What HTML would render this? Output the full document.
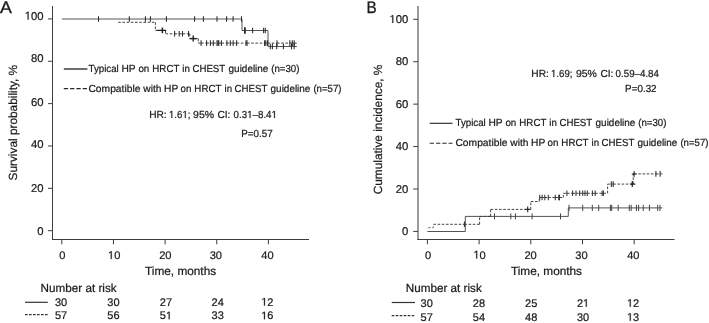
<!DOCTYPE html>
<html><head><meta charset="utf-8"><style>
html,body{margin:0;padding:0;background:#fff;}
svg{display:block;filter:grayscale(1);font-family:"Liberation Sans", sans-serif;fill:#1a1a1a;}
text{stroke:#1a1a1a;stroke-width:0.22px;text-rendering:geometricPrecision;}
</style></head><body>
<svg width="709" height="323" viewBox="0 0 709 323">
<rect width="709" height="323" fill="#fff"/>
<line x1="52.5" y1="6" x2="52.5" y2="240" stroke="#3c3c3c" stroke-width="1" />
<line x1="52" y1="239.5" x2="309" y2="239.5" stroke="#3c3c3c" stroke-width="1" />
<line x1="48" y1="230.7" x2="52.5" y2="230.7" stroke="#3c3c3c" stroke-width="1" />
<line x1="48" y1="188.34" x2="52.5" y2="188.34" stroke="#3c3c3c" stroke-width="1" />
<line x1="48" y1="145.98" x2="52.5" y2="145.98" stroke="#3c3c3c" stroke-width="1" />
<line x1="48" y1="103.62" x2="52.5" y2="103.62" stroke="#3c3c3c" stroke-width="1" />
<line x1="48" y1="61.26" x2="52.5" y2="61.26" stroke="#3c3c3c" stroke-width="1" />
<line x1="48" y1="18.9" x2="52.5" y2="18.9" stroke="#3c3c3c" stroke-width="1" />
<line x1="61.8" y1="239.5" x2="61.8" y2="244.3" stroke="#3c3c3c" stroke-width="1" />
<line x1="113.45" y1="239.5" x2="113.45" y2="244.3" stroke="#3c3c3c" stroke-width="1" />
<line x1="165.1" y1="239.5" x2="165.1" y2="244.3" stroke="#3c3c3c" stroke-width="1" />
<line x1="216.75" y1="239.5" x2="216.75" y2="244.3" stroke="#3c3c3c" stroke-width="1" />
<line x1="268.4" y1="239.5" x2="268.4" y2="244.3" stroke="#3c3c3c" stroke-width="1" />
<line x1="418" y1="6" x2="418" y2="240" stroke="#3a3a3a" stroke-width="1" />
<line x1="417.5" y1="239.5" x2="674.5" y2="239.5" stroke="#3c3c3c" stroke-width="1" />
<line x1="413.2" y1="231.4" x2="418" y2="231.4" stroke="#3c3c3c" stroke-width="1" />
<line x1="413.2" y1="188.98" x2="418" y2="188.98" stroke="#3c3c3c" stroke-width="1" />
<line x1="413.2" y1="146.56" x2="418" y2="146.56" stroke="#3c3c3c" stroke-width="1" />
<line x1="413.2" y1="104.14" x2="418" y2="104.14" stroke="#3c3c3c" stroke-width="1" />
<line x1="413.2" y1="61.72" x2="418" y2="61.72" stroke="#3c3c3c" stroke-width="1" />
<line x1="413.2" y1="19.3" x2="418" y2="19.3" stroke="#3c3c3c" stroke-width="1" />
<line x1="427.4" y1="239.5" x2="427.4" y2="244.3" stroke="#3c3c3c" stroke-width="1" />
<line x1="479.1" y1="239.5" x2="479.1" y2="244.3" stroke="#3c3c3c" stroke-width="1" />
<line x1="530.8" y1="239.5" x2="530.8" y2="244.3" stroke="#3c3c3c" stroke-width="1" />
<line x1="582.5" y1="239.5" x2="582.5" y2="244.3" stroke="#3c3c3c" stroke-width="1" />
<line x1="634.2" y1="239.5" x2="634.2" y2="244.3" stroke="#3c3c3c" stroke-width="1" />
<text x="37.32" y="234.85" font-size="11.3" xml:space="preserve">0</text>
<text x="31.03" y="191.8" font-size="11.3" xml:space="preserve">20</text>
<text x="31.03" y="148.25" font-size="11.3" xml:space="preserve">40</text>
<text x="31.03" y="105.85" font-size="11.3" xml:space="preserve">60</text>
<text x="31.03" y="62.45" font-size="11.3" xml:space="preserve">80</text>
<path d="M27.59,19.55L27.59,12.72L25.83,13.98L25.83,13.04L27.67,11.78L28.59,11.78L28.59,19.55Z" fill="#1a1a1a" stroke="#1a1a1a" stroke-width="0.22"/>
<text x="24.75" y="19.55" font-size="11.3" xml:space="preserve"> 00</text>
<text x="402.02" y="235" font-size="11.3" xml:space="preserve">0</text>
<text x="395.73" y="192.58" font-size="11.3" xml:space="preserve">20</text>
<text x="395.73" y="150.16" font-size="11.3" xml:space="preserve">40</text>
<text x="395.73" y="107.74" font-size="11.3" xml:space="preserve">60</text>
<text x="395.73" y="65.32" font-size="11.3" xml:space="preserve">80</text>
<path d="M392.29,22.9L392.29,16.07L390.53,17.33L390.53,16.39L392.37,15.13L393.29,15.13L393.29,22.9Z" fill="#1a1a1a" stroke="#1a1a1a" stroke-width="0.22"/>
<text x="389.45" y="22.9" font-size="11.3" xml:space="preserve"> 00</text>
<text x="59.36" y="259" font-size="11.1" xml:space="preserve">0</text>
<path d="M110.77,259L110.77,252.3L109.04,253.53L109.04,252.6L110.85,251.36L111.75,251.36L111.75,259Z" fill="#1a1a1a" stroke="#1a1a1a" stroke-width="0.22"/>
<text x="107.98" y="259" font-size="11.1" xml:space="preserve"> 0</text>
<text x="159.13" y="259" font-size="11.1" xml:space="preserve">20</text>
<text x="209.68" y="259" font-size="11.1" xml:space="preserve">30</text>
<text x="261.23" y="259" font-size="11.1" xml:space="preserve">40</text>
<text x="425.11" y="258.5" font-size="11.1" xml:space="preserve">0</text>
<path d="M476.22,258.5L476.22,251.8L474.49,253.03L474.49,252.1L476.3,250.86L477.2,250.86L477.2,258.5Z" fill="#1a1a1a" stroke="#1a1a1a" stroke-width="0.22"/>
<text x="473.43" y="258.5" font-size="11.1" xml:space="preserve"> 0</text>
<text x="524.38" y="258.5" font-size="11.1" xml:space="preserve">20</text>
<text x="575.33" y="258.5" font-size="11.1" xml:space="preserve">30</text>
<text x="627.13" y="258.5" font-size="11.1" xml:space="preserve">40</text>
<text x="180.6" y="275.3" font-size="11.8" text-anchor="middle" >Time, months</text>
<text x="546.5" y="274.6" font-size="11.8" text-anchor="middle" >Time, months</text>
<text transform="translate(17.2,122.7) rotate(-90)" font-size="11.85" text-anchor="middle">Survival probability, %</text>
<text transform="translate(382.3,129.5) rotate(-90)" font-size="11.85" text-anchor="middle">Cumulative incidence, %</text>
<text transform="translate(0.0,13.3) scale(1.06,1)" font-size="16.8" style="stroke-width:0.35px">A</text>
<text transform="translate(366.6,13.2) scale(0.91,1)" font-size="16.8" style="stroke-width:0.3px">B</text>
<line x1="63.8" y1="69" x2="87.4" y2="69" stroke="#4a4a4a" stroke-width="1.6" />
<line x1="63.8" y1="88.7" x2="87.4" y2="88.7" stroke="#2a2a2a" stroke-width="1.3" stroke-dasharray="4.3 2"/>
<text transform="translate(88.48,71.6) scale(0.955,1)" font-size="10.2" xml:space="preserve">Typical</text>
<text x="121.46" y="71.6" font-size="10.2" xml:space="preserve">HP</text>
<text transform="translate(138.39,71.6) scale(0.96,1)" font-size="10.2" xml:space="preserve">on</text>
<text transform="translate(152.3,71.6) scale(0.957,1)" font-size="10.2" xml:space="preserve">HRCT</text>
<text transform="translate(182.25,71.6) scale(0.95,1)" font-size="10.2" xml:space="preserve">in</text>
<text transform="translate(192.41,71.6) scale(0.95,1)" font-size="10.2" xml:space="preserve">CHEST</text>
<text transform="translate(228.58,71.6) scale(0.976,1)" font-size="10.2" xml:space="preserve">guideline</text>
<text transform="translate(271.2,71.6) scale(0.951,1)" font-size="10.2" xml:space="preserve">(n=30)</text>
<text transform="translate(88.38,92) scale(1.011,1)" font-size="10.2" xml:space="preserve">Compatible</text>
<text x="143.31" y="92" font-size="10.2" xml:space="preserve">with</text>
<text x="164.06" y="92" font-size="10.2" xml:space="preserve">HP</text>
<text transform="translate(180.49,92) scale(0.96,1)" font-size="10.2" xml:space="preserve">on</text>
<text transform="translate(194.35,92) scale(0.957,1)" font-size="10.2" xml:space="preserve">HRCT</text>
<text transform="translate(224.55,92) scale(0.95,1)" font-size="10.2" xml:space="preserve">in</text>
<text transform="translate(234.56,92) scale(0.95,1)" font-size="10.2" xml:space="preserve">CHEST</text>
<text transform="translate(270.58,92) scale(0.976,1)" font-size="10.2" xml:space="preserve">guideline</text>
<text transform="translate(313.4,92) scale(0.944,1)" font-size="10.2" xml:space="preserve">(n=57)</text>
<line x1="429.7" y1="123.3" x2="452.5" y2="123.3" stroke="#222" stroke-width="1.1" />
<line x1="429.7" y1="143.3" x2="452.5" y2="143.3" stroke="#2a2a2a" stroke-width="1.1" stroke-dasharray="4.3 2"/>
<text transform="translate(455.48,126) scale(0.955,1)" font-size="10.2" xml:space="preserve">Typical</text>
<text x="488.46" y="126" font-size="10.2" xml:space="preserve">HP</text>
<text transform="translate(505.39,126) scale(0.96,1)" font-size="10.2" xml:space="preserve">on</text>
<text transform="translate(519.3,126) scale(0.957,1)" font-size="10.2" xml:space="preserve">HRCT</text>
<text transform="translate(549.25,126) scale(0.95,1)" font-size="10.2" xml:space="preserve">in</text>
<text transform="translate(559.41,126) scale(0.95,1)" font-size="10.2" xml:space="preserve">CHEST</text>
<text transform="translate(595.58,126) scale(0.976,1)" font-size="10.2" xml:space="preserve">guideline</text>
<text transform="translate(638.2,126) scale(0.951,1)" font-size="10.2" xml:space="preserve">(n=30)</text>
<text transform="translate(455.38,146.1) scale(1.011,1)" font-size="10.2" xml:space="preserve">Compatible</text>
<text x="510.31" y="146.1" font-size="10.2" xml:space="preserve">with</text>
<text x="531.06" y="146.1" font-size="10.2" xml:space="preserve">HP</text>
<text transform="translate(547.49,146.1) scale(0.96,1)" font-size="10.2" xml:space="preserve">on</text>
<text transform="translate(561.35,146.1) scale(0.957,1)" font-size="10.2" xml:space="preserve">HRCT</text>
<text transform="translate(591.55,146.1) scale(0.95,1)" font-size="10.2" xml:space="preserve">in</text>
<text transform="translate(601.56,146.1) scale(0.95,1)" font-size="10.2" xml:space="preserve">CHEST</text>
<text transform="translate(637.58,146.1) scale(0.976,1)" font-size="10.2" xml:space="preserve">guideline</text>
<text transform="translate(680.4,146.1) scale(0.944,1)" font-size="10.2" xml:space="preserve">(n=57)</text>
<text x="149.16" y="118" font-size="10.2" xml:space="preserve">HR:</text>
<path d="M171.4,118L171.4,111.84L169.89,112.97L169.89,112.12L171.47,110.98L172.25,110.98L172.25,118Z" fill="#1a1a1a" stroke="#1a1a1a" stroke-width="0.22"/>
<path d="M184.87,118L184.87,111.84L183.36,112.97L183.36,112.12L184.94,110.98L185.73,110.98L185.73,118Z" fill="#1a1a1a" stroke="#1a1a1a" stroke-width="0.22"/>
<text transform="translate(168.96,118) scale(0.95,1)" font-size="10.2" xml:space="preserve"> .6 ;</text>
<text transform="translate(193.11,118) scale(1.03,1)" font-size="10.2" xml:space="preserve">95%</text>
<text x="217.38" y="118" font-size="10.2" xml:space="preserve">CI:</text>
<path d="M249.61,118L249.61,111.84L248.1,112.97L248.1,112.12L249.68,110.98L250.47,110.98L250.47,118Z" fill="#1a1a1a" stroke="#1a1a1a" stroke-width="0.22"/>
<path d="M273.99,118L273.99,111.84L272.47,112.97L272.47,112.12L274.06,110.98L274.85,110.98L274.85,118Z" fill="#1a1a1a" stroke="#1a1a1a" stroke-width="0.22"/>
<text transform="translate(233.62,118) scale(0.955,1)" font-size="10.2" xml:space="preserve">0.3 –8.4 </text>
<text x="241.3" y="136.9" font-size="10.2" text-anchor="start"  textLength="31.5" lengthAdjust="spacingAndGlyphs">P=0.57</text>
<text x="531.36" y="77" font-size="10.2" xml:space="preserve">HR:</text>
<path d="M553.4,77L553.4,70.84L551.89,71.97L551.89,71.12L553.47,69.98L554.25,69.98L554.25,77Z" fill="#1a1a1a" stroke="#1a1a1a" stroke-width="0.22"/>
<text transform="translate(550.96,77) scale(0.95,1)" font-size="10.2" xml:space="preserve"> .69;</text>
<text transform="translate(575.91,77) scale(1.03,1)" font-size="10.2" xml:space="preserve">95%</text>
<text x="600.38" y="77" font-size="10.2" xml:space="preserve">CI:</text>
<text transform="translate(615.62,77) scale(0.955,1)" font-size="10.2" xml:space="preserve">0.59–4.84</text>
<text x="625.1" y="92" font-size="10.2" text-anchor="start"  textLength="31.5" lengthAdjust="spacingAndGlyphs">P=0.32</text>
<text x="40.6" y="291.7" font-size="11.7" text-anchor="start" >Number at risk</text>
<line x1="25" y1="302.3" x2="47.8" y2="302.3" stroke="#333" stroke-width="1.2" />
<line x1="25" y1="314.7" x2="47.8" y2="314.7" stroke="#333" stroke-width="1.2" stroke-dasharray="2.6 1.4"/>
<text x="54.93" y="305.5" font-size="11" xml:space="preserve">30</text>
<text x="107.33" y="305.5" font-size="11" xml:space="preserve">30</text>
<text x="159.78" y="305.5" font-size="11" xml:space="preserve">27</text>
<text x="211.53" y="305.5" font-size="11" xml:space="preserve">24</text>
<path d="M263.95,305.5L263.95,298.86L262.24,300.08L262.24,299.16L264.03,297.93L264.92,297.93L264.92,305.5Z" fill="#1a1a1a" stroke="#1a1a1a" stroke-width="0.22"/>
<text x="261.18" y="305.5" font-size="11" xml:space="preserve"> 2</text>
<text x="54.93" y="319.3" font-size="11" xml:space="preserve">57</text>
<text x="107.33" y="319.3" font-size="11" xml:space="preserve">56</text>
<path d="M168.67,319.3L168.67,312.66L166.96,313.88L166.96,312.96L168.75,311.73L169.64,311.73L169.64,319.3Z" fill="#1a1a1a" stroke="#1a1a1a" stroke-width="0.22"/>
<text x="159.78" y="319.3" font-size="11" xml:space="preserve">5 </text>
<text x="211.53" y="319.3" font-size="11" xml:space="preserve">33</text>
<path d="M263.95,319.3L263.95,312.66L262.24,313.88L262.24,312.96L264.03,311.73L264.92,311.73L264.92,319.3Z" fill="#1a1a1a" stroke="#1a1a1a" stroke-width="0.22"/>
<text x="261.18" y="319.3" font-size="11" xml:space="preserve"> 6</text>
<text x="405.8" y="291.6" font-size="11.7" text-anchor="start" >Number at risk</text>
<line x1="391.7" y1="302.5" x2="415" y2="302.5" stroke="#333" stroke-width="1.2" />
<line x1="391.7" y1="315.6" x2="415" y2="315.6" stroke="#333" stroke-width="1.2" stroke-dasharray="2.6 1.4"/>
<text x="420.58" y="306.8" font-size="11" xml:space="preserve">30</text>
<text x="472.78" y="306.8" font-size="11" xml:space="preserve">28</text>
<text x="525.08" y="306.8" font-size="11" xml:space="preserve">25</text>
<path d="M585.77,306.8L585.77,300.16L584.06,301.38L584.06,300.46L585.85,299.23L586.74,299.23L586.74,306.8Z" fill="#1a1a1a" stroke="#1a1a1a" stroke-width="0.22"/>
<text x="576.88" y="306.8" font-size="11" xml:space="preserve">2 </text>
<path d="M629.75,306.8L629.75,300.16L628.04,301.38L628.04,300.46L629.83,299.23L630.72,299.23L630.72,306.8Z" fill="#1a1a1a" stroke="#1a1a1a" stroke-width="0.22"/>
<text x="626.98" y="306.8" font-size="11" xml:space="preserve"> 2</text>
<text x="420.58" y="320.7" font-size="11" xml:space="preserve">57</text>
<text x="472.78" y="320.7" font-size="11" xml:space="preserve">54</text>
<text x="525.08" y="320.7" font-size="11" xml:space="preserve">48</text>
<text x="576.88" y="320.7" font-size="11" xml:space="preserve">30</text>
<path d="M629.75,320.7L629.75,314.06L628.04,315.28L628.04,314.36L629.83,313.13L630.72,313.13L630.72,320.7Z" fill="#1a1a1a" stroke="#1a1a1a" stroke-width="0.22"/>
<text x="626.98" y="320.7" font-size="11" xml:space="preserve"> 3</text>
<path d="M61.8,19H242V30.5H268V46.5H296.9" fill="none" stroke="#555" stroke-width="1"/>
<path d="M118.2,22.3L155.4,22.3" fill="none" stroke="#3a3a3a" stroke-width="0.95" stroke-dasharray="2.6 1.6"/>
<path d="M155.4,22.3L155.4,30.4" fill="none" stroke="#3a3a3a" stroke-width="0.95" stroke-dasharray="2.6 1.6"/>
<path d="M155.4,30.4L162.4,30.4" fill="none" stroke="#3a3a3a" stroke-width="0.95" stroke-dasharray="2.6 1.6"/>
<path d="M162.4,30.4L165.5,30.4" fill="none" stroke="#3a3a3a" stroke-width="0.95" stroke-dasharray="2.6 1.6"/>
<path d="M165.5,30.4L165.5,33.8" fill="none" stroke="#3a3a3a" stroke-width="0.95" stroke-dasharray="2.6 1.6"/>
<path d="M165.5,33.8L174.6,33.8" fill="none" stroke="#3a3a3a" stroke-width="0.95" stroke-dasharray="2.6 1.6"/>
<path d="M174.6,33.8L179.2,33.8" fill="none" stroke="#3a3a3a" stroke-width="0.95" stroke-dasharray="2.6 1.6"/>
<path d="M179.2,33.8L182.5,33.8" fill="none" stroke="#3a3a3a" stroke-width="0.95" stroke-dasharray="2.6 1.6"/>
<path d="M182.5,33.8L188.5,33.8" fill="none" stroke="#3a3a3a" stroke-width="0.95" stroke-dasharray="2.6 1.6"/>
<path d="M188.5,33.8L189.8,33.8" fill="none" stroke="#3a3a3a" stroke-width="0.95" stroke-dasharray="2.6 1.6"/>
<path d="M189.8,33.8L189.8,38.6" fill="none" stroke="#3a3a3a" stroke-width="0.95" stroke-dasharray="2.6 1.6"/>
<path d="M189.8,38.6L193.2,38.6" fill="none" stroke="#3a3a3a" stroke-width="0.95" stroke-dasharray="2.6 1.6"/>
<path d="M193.2,38.6L198.2,38.6" fill="none" stroke="#3a3a3a" stroke-width="0.95" stroke-dasharray="2.6 1.6"/>
<path d="M198.2,38.6L198.2,43.1" fill="none" stroke="#3a3a3a" stroke-width="0.95" stroke-dasharray="2.6 1.6"/>
<path d="M198.2,43.1L201.1,43.1" fill="none" stroke="#3a3a3a" stroke-width="0.95" stroke-dasharray="2.6 1.6"/>
<path d="M201.1,43.1L206.6,43.1" fill="none" stroke="#3a3a3a" stroke-width="0.95" stroke-dasharray="2.6 1.6"/>
<path d="M206.6,43.1L210.4,43.1" fill="none" stroke="#3a3a3a" stroke-width="0.95" stroke-dasharray="2.6 1.6"/>
<path d="M210.4,43.1L213.3,43.1" fill="none" stroke="#3a3a3a" stroke-width="0.95" stroke-dasharray="2.6 1.6"/>
<path d="M213.3,43.1L217,43.1" fill="none" stroke="#3a3a3a" stroke-width="0.95" stroke-dasharray="2.6 1.6"/>
<path d="M217,43.1L218,43.1" fill="none" stroke="#3a3a3a" stroke-width="0.95" stroke-dasharray="2.6 1.6"/>
<path d="M218,43.1L218.8,43.1" fill="none" stroke="#3a3a3a" stroke-width="0.95" stroke-dasharray="2.6 1.6"/>
<path d="M218.8,43.1L221.4,43.1" fill="none" stroke="#3a3a3a" stroke-width="0.95" stroke-dasharray="2.6 1.6"/>
<path d="M221.4,43.1L226.9,43.1" fill="none" stroke="#3a3a3a" stroke-width="0.95" stroke-dasharray="2.6 1.6"/>
<path d="M226.9,43.1L230.3,43.1" fill="none" stroke="#3a3a3a" stroke-width="0.95" stroke-dasharray="2.6 1.6"/>
<path d="M230.3,43.1L233.2,43.1" fill="none" stroke="#3a3a3a" stroke-width="0.95" stroke-dasharray="2.6 1.6"/>
<path d="M233.2,43.1L236.6,43.1" fill="none" stroke="#3a3a3a" stroke-width="0.95" stroke-dasharray="2.6 1.6"/>
<path d="M236.6,43.1L246,43.1" fill="none" stroke="#3a3a3a" stroke-width="0.95" stroke-dasharray="2.6 1.6"/>
<path d="M246,43.1L247,43.1" fill="none" stroke="#3a3a3a" stroke-width="0.95" stroke-dasharray="2.6 1.6"/>
<path d="M247,43.1L264.6,43.1" fill="none" stroke="#3a3a3a" stroke-width="0.95" stroke-dasharray="2.6 1.6"/>
<path d="M264.6,43.1L265.8,43.1" fill="none" stroke="#3a3a3a" stroke-width="0.95" stroke-dasharray="2.6 1.6"/>
<path d="M265.8,43.1L267.6,43.1" fill="none" stroke="#3a3a3a" stroke-width="0.95" stroke-dasharray="2.6 1.6"/>
<path d="M267.6,43.1L277,43.1" fill="none" stroke="#3a3a3a" stroke-width="0.95" stroke-dasharray="2.6 1.6"/>
<path d="M277,43.1L289.8,43.1" fill="none" stroke="#3a3a3a" stroke-width="0.95" stroke-dasharray="2.6 1.6"/>
<path d="M289.8,43.1L292.3,43.1" fill="none" stroke="#3a3a3a" stroke-width="0.95" stroke-dasharray="2.6 1.6"/>
<path d="M292.3,43.1L294.2,43.1" fill="none" stroke="#3a3a3a" stroke-width="0.95" stroke-dasharray="2.6 1.6"/>
<path d="M294.2,43.1L296.9,43.1" fill="none" stroke="#3a3a3a" stroke-width="0.95" stroke-dasharray="2.6 1.6"/>
<line x1="98.5" y1="16.2" x2="98.5" y2="21.8" stroke="#2a2a2a" stroke-width="1.05" />
<line x1="129.3" y1="16.2" x2="129.3" y2="21.8" stroke="#2a2a2a" stroke-width="1.05" />
<line x1="145.4" y1="16.2" x2="145.4" y2="21.8" stroke="#2a2a2a" stroke-width="1.05" />
<line x1="150.4" y1="16.2" x2="150.4" y2="21.8" stroke="#2a2a2a" stroke-width="1.05" />
<line x1="166.4" y1="16.2" x2="166.4" y2="21.8" stroke="#2a2a2a" stroke-width="1.05" />
<line x1="194.6" y1="16.2" x2="194.6" y2="21.8" stroke="#2a2a2a" stroke-width="1.05" />
<line x1="203.4" y1="16.2" x2="203.4" y2="21.8" stroke="#2a2a2a" stroke-width="1.05" />
<line x1="217" y1="16.2" x2="217" y2="21.8" stroke="#2a2a2a" stroke-width="1.05" />
<line x1="226.6" y1="16.2" x2="226.6" y2="21.8" stroke="#2a2a2a" stroke-width="1.05" />
<line x1="233.1" y1="16.2" x2="233.1" y2="21.8" stroke="#2a2a2a" stroke-width="1.05" />
<line x1="241.5" y1="16.2" x2="241.5" y2="21.8" stroke="#2a2a2a" stroke-width="1.05" />
<line x1="244.9" y1="27.3" x2="244.9" y2="33.7" stroke="#2a2a2a" stroke-width="1.8" />
<line x1="252.6" y1="27.7" x2="252.6" y2="33.3" stroke="#2a2a2a" stroke-width="1.05" />
<line x1="263.6" y1="27.7" x2="263.6" y2="33.3" stroke="#2a2a2a" stroke-width="1.05" />
<line x1="265.3" y1="27.7" x2="265.3" y2="33.3" stroke="#2a2a2a" stroke-width="1.05" />
<line x1="270.3" y1="43.7" x2="270.3" y2="49.3" stroke="#2a2a2a" stroke-width="1.05" />
<line x1="272.4" y1="43.7" x2="272.4" y2="49.3" stroke="#2a2a2a" stroke-width="1.05" />
<line x1="276.7" y1="43.7" x2="276.7" y2="49.3" stroke="#2a2a2a" stroke-width="1.05" />
<line x1="283.4" y1="43.7" x2="283.4" y2="49.3" stroke="#2a2a2a" stroke-width="1.05" />
<line x1="291.5" y1="43.7" x2="291.5" y2="49.3" stroke="#2a2a2a" stroke-width="1.05" />
<line x1="294.1" y1="43.7" x2="294.1" y2="49.3" stroke="#2a2a2a" stroke-width="1.05" />
<line x1="174.6" y1="31" x2="174.6" y2="36.6" stroke="#2a2a2a" stroke-width="1.05" />
<line x1="179.2" y1="31" x2="179.2" y2="36.6" stroke="#2a2a2a" stroke-width="1.05" />
<line x1="182.5" y1="31" x2="182.5" y2="36.6" stroke="#2a2a2a" stroke-width="1.05" />
<line x1="188.5" y1="31" x2="188.5" y2="36.6" stroke="#2a2a2a" stroke-width="1.05" />
<line x1="201.1" y1="40.3" x2="201.1" y2="45.9" stroke="#2a2a2a" stroke-width="1.05" />
<line x1="206.6" y1="40.3" x2="206.6" y2="45.9" stroke="#2a2a2a" stroke-width="1.05" />
<line x1="210.4" y1="40.3" x2="210.4" y2="45.9" stroke="#2a2a2a" stroke-width="1.05" />
<line x1="213.3" y1="40.3" x2="213.3" y2="45.9" stroke="#2a2a2a" stroke-width="1.05" />
<line x1="217" y1="40.3" x2="217" y2="45.9" stroke="#2a2a2a" stroke-width="1.05" />
<line x1="218" y1="40.3" x2="218" y2="45.9" stroke="#2a2a2a" stroke-width="1.05" />
<line x1="218.8" y1="40.3" x2="218.8" y2="45.9" stroke="#2a2a2a" stroke-width="1.05" />
<line x1="221.4" y1="40.3" x2="221.4" y2="45.9" stroke="#2a2a2a" stroke-width="1.05" />
<line x1="226.9" y1="40.3" x2="226.9" y2="45.9" stroke="#2a2a2a" stroke-width="1.05" />
<line x1="230.3" y1="40.3" x2="230.3" y2="45.9" stroke="#2a2a2a" stroke-width="1.05" />
<line x1="233.2" y1="40.3" x2="233.2" y2="45.9" stroke="#2a2a2a" stroke-width="1.05" />
<line x1="236.6" y1="40.3" x2="236.6" y2="45.9" stroke="#2a2a2a" stroke-width="1.05" />
<line x1="246" y1="40.3" x2="246" y2="45.9" stroke="#2a2a2a" stroke-width="1.05" />
<line x1="247" y1="40.3" x2="247" y2="45.9" stroke="#2a2a2a" stroke-width="1.05" />
<line x1="264.6" y1="40.3" x2="264.6" y2="45.9" stroke="#2a2a2a" stroke-width="1.05" />
<line x1="265.8" y1="40.3" x2="265.8" y2="45.9" stroke="#2a2a2a" stroke-width="1.05" />
<line x1="267.6" y1="40.3" x2="267.6" y2="45.9" stroke="#2a2a2a" stroke-width="1.05" />
<line x1="277" y1="40.3" x2="277" y2="45.9" stroke="#2a2a2a" stroke-width="1.05" />
<line x1="289.8" y1="40.3" x2="289.8" y2="45.9" stroke="#2a2a2a" stroke-width="1.05" />
<line x1="292.3" y1="40.3" x2="292.3" y2="45.9" stroke="#2a2a2a" stroke-width="1.05" />
<line x1="294.2" y1="40.3" x2="294.2" y2="45.9" stroke="#2a2a2a" stroke-width="1.05" />
<line x1="157" y1="30.4" x2="166.2" y2="30.4" stroke="#222" stroke-width="1.2" />
<line x1="161.6" y1="30.39" x2="161.6" y2="30.41" stroke="#222" stroke-width="1.2" />
<line x1="162.4" y1="27.6" x2="162.4" y2="33.2" stroke="#222" stroke-width="1.5" />
<line x1="189.6" y1="38.6" x2="196.8" y2="38.6" stroke="#222" stroke-width="1.4" />
<line x1="193.2" y1="35.6" x2="193.2" y2="41.6" stroke="#222" stroke-width="1.4" />
<path d="M427.4,231.5H465.3V216.4H568.3V207.9H662.4" fill="none" stroke="#4a4a4a" stroke-width="0.95"/>
<line x1="494.5" y1="213.4" x2="494.5" y2="219.4" stroke="#444" stroke-width="1" />
<line x1="510.8" y1="213.4" x2="510.8" y2="219.4" stroke="#444" stroke-width="1" />
<line x1="515.4" y1="213.4" x2="515.4" y2="219.4" stroke="#444" stroke-width="1" />
<line x1="532.1" y1="213.4" x2="532.1" y2="219.4" stroke="#444" stroke-width="1" />
<line x1="560.5" y1="213.4" x2="560.5" y2="219.4" stroke="#444" stroke-width="1" />
<line x1="569" y1="204.8" x2="569" y2="211" stroke="#444" stroke-width="1" />
<line x1="582.7" y1="204.8" x2="582.7" y2="211" stroke="#444" stroke-width="1" />
<line x1="592.3" y1="204.8" x2="592.3" y2="211" stroke="#444" stroke-width="1" />
<line x1="598.7" y1="204.8" x2="598.7" y2="211" stroke="#444" stroke-width="1" />
<line x1="610.4" y1="204.8" x2="610.4" y2="211" stroke="#444" stroke-width="1" />
<line x1="611.7" y1="204.8" x2="611.7" y2="211" stroke="#444" stroke-width="1" />
<line x1="618.2" y1="204.8" x2="618.2" y2="211" stroke="#444" stroke-width="1" />
<line x1="629.3" y1="204.8" x2="629.3" y2="211" stroke="#444" stroke-width="1" />
<line x1="631.2" y1="204.8" x2="631.2" y2="211" stroke="#444" stroke-width="1" />
<line x1="636.4" y1="204.8" x2="636.4" y2="211" stroke="#444" stroke-width="1" />
<line x1="638.6" y1="204.8" x2="638.6" y2="211" stroke="#444" stroke-width="1" />
<line x1="643.3" y1="204.8" x2="643.3" y2="211" stroke="#444" stroke-width="1" />
<line x1="649.4" y1="204.8" x2="649.4" y2="211" stroke="#444" stroke-width="1" />
<line x1="657.7" y1="204.8" x2="657.7" y2="211" stroke="#444" stroke-width="1" />
<line x1="660" y1="204.8" x2="660" y2="211" stroke="#444" stroke-width="1" />
<path d="M428,227.7H433.4V225" fill="none" stroke="#777" stroke-width="1" stroke-dasharray="2.6 1.6"/>
<path d="M433.4,224.3L464.4,224.3" fill="none" stroke="#3a3a3a" stroke-width="0.95" stroke-dasharray="2.6 1.6"/>
<path d="M464.4,224.3L479.6,224.3" fill="none" stroke="#3a3a3a" stroke-width="0.95" stroke-dasharray="2.6 1.6"/>
<path d="M479.6,224.3L479.6,216.4" fill="none" stroke="#3a3a3a" stroke-width="0.95" stroke-dasharray="2.6 1.6"/>
<path d="M479.6,216.4L490.6,216.4" fill="none" stroke="#3a3a3a" stroke-width="0.95" stroke-dasharray="2.6 1.6"/>
<path d="M490.6,216.4L490.6,209.4" fill="none" stroke="#3a3a3a" stroke-width="0.95" stroke-dasharray="2.6 1.6"/>
<path d="M490.6,209.4L527.7,209.4" fill="none" stroke="#3a3a3a" stroke-width="0.95" stroke-dasharray="2.6 1.6"/>
<path d="M527.7,209.4L530.8,209.4" fill="none" stroke="#3a3a3a" stroke-width="0.95" stroke-dasharray="2.6 1.6"/>
<path d="M530.8,209.4L530.8,201.5" fill="none" stroke="#3a3a3a" stroke-width="0.95" stroke-dasharray="2.6 1.6"/>
<path d="M530.8,201.5L539.3,201.5" fill="none" stroke="#3a3a3a" stroke-width="0.95" stroke-dasharray="2.6 1.6"/>
<path d="M539.3,201.5L539.3,197.5" fill="none" stroke="#3a3a3a" stroke-width="0.95" stroke-dasharray="2.6 1.6"/>
<path d="M539.3,197.5L539.7,197.5" fill="none" stroke="#3a3a3a" stroke-width="0.95" stroke-dasharray="2.6 1.6"/>
<path d="M539.7,197.5L542.1,197.5" fill="none" stroke="#3a3a3a" stroke-width="0.95" stroke-dasharray="2.6 1.6"/>
<path d="M542.1,197.5L544.8,197.5" fill="none" stroke="#3a3a3a" stroke-width="0.95" stroke-dasharray="2.6 1.6"/>
<path d="M544.8,197.5L548.3,197.5" fill="none" stroke="#3a3a3a" stroke-width="0.95" stroke-dasharray="2.6 1.6"/>
<path d="M548.3,197.5L555.3,197.5" fill="none" stroke="#3a3a3a" stroke-width="0.95" stroke-dasharray="2.6 1.6"/>
<path d="M555.3,197.5L558.7,197.5" fill="none" stroke="#3a3a3a" stroke-width="0.95" stroke-dasharray="2.6 1.6"/>
<path d="M558.7,197.5L559.5,197.5" fill="none" stroke="#3a3a3a" stroke-width="0.95" stroke-dasharray="2.6 1.6"/>
<path d="M559.5,197.5L563.3,197.5" fill="none" stroke="#3a3a3a" stroke-width="0.95" stroke-dasharray="2.6 1.6"/>
<path d="M563.3,197.5L563.3,193.3" fill="none" stroke="#3a3a3a" stroke-width="0.95" stroke-dasharray="2.6 1.6"/>
<path d="M563.3,193.3L566.9,193.3" fill="none" stroke="#3a3a3a" stroke-width="0.95" stroke-dasharray="2.6 1.6"/>
<path d="M566.9,193.3L572.6,193.3" fill="none" stroke="#3a3a3a" stroke-width="0.95" stroke-dasharray="2.6 1.6"/>
<path d="M572.6,193.3L576,193.3" fill="none" stroke="#3a3a3a" stroke-width="0.95" stroke-dasharray="2.6 1.6"/>
<path d="M576,193.3L579.6,193.3" fill="none" stroke="#3a3a3a" stroke-width="0.95" stroke-dasharray="2.6 1.6"/>
<path d="M579.6,193.3L582.7,193.3" fill="none" stroke="#3a3a3a" stroke-width="0.95" stroke-dasharray="2.6 1.6"/>
<path d="M582.7,193.3L585,193.3" fill="none" stroke="#3a3a3a" stroke-width="0.95" stroke-dasharray="2.6 1.6"/>
<path d="M585,193.3L587.3,193.3" fill="none" stroke="#3a3a3a" stroke-width="0.95" stroke-dasharray="2.6 1.6"/>
<path d="M587.3,193.3L592.4,193.3" fill="none" stroke="#3a3a3a" stroke-width="0.95" stroke-dasharray="2.6 1.6"/>
<path d="M592.4,193.3L595.2,193.3" fill="none" stroke="#3a3a3a" stroke-width="0.95" stroke-dasharray="2.6 1.6"/>
<path d="M595.2,193.3L602.1,193.3" fill="none" stroke="#3a3a3a" stroke-width="0.95" stroke-dasharray="2.6 1.6"/>
<path d="M602.1,193.3L603.4,193.3" fill="none" stroke="#3a3a3a" stroke-width="0.95" stroke-dasharray="2.6 1.6"/>
<path d="M603.4,193.3L607.6,193.3" fill="none" stroke="#3a3a3a" stroke-width="0.95" stroke-dasharray="2.6 1.6"/>
<path d="M607.6,193.3L607.6,184.1" fill="none" stroke="#3a3a3a" stroke-width="0.95" stroke-dasharray="2.6 1.6"/>
<path d="M607.6,184.1L611.3,184.1" fill="none" stroke="#3a3a3a" stroke-width="0.95" stroke-dasharray="2.6 1.6"/>
<path d="M611.3,184.1L613.2,184.1" fill="none" stroke="#3a3a3a" stroke-width="0.95" stroke-dasharray="2.6 1.6"/>
<path d="M613.2,184.1L632.3,184.1" fill="none" stroke="#3a3a3a" stroke-width="0.95" stroke-dasharray="2.6 1.6"/>
<path d="M632.3,184.1L633.2,184.1" fill="none" stroke="#3a3a3a" stroke-width="0.95" stroke-dasharray="2.6 1.6"/>
<path d="M633.2,184.1L633.2,173.9" fill="none" stroke="#3a3a3a" stroke-width="0.95" stroke-dasharray="2.6 1.6"/>
<path d="M633.2,173.9L634.1,173.9" fill="none" stroke="#3a3a3a" stroke-width="0.95" stroke-dasharray="2.6 1.6"/>
<path d="M634.1,173.9L655.9,173.9" fill="none" stroke="#3a3a3a" stroke-width="0.95" stroke-dasharray="2.6 1.6"/>
<path d="M655.9,173.9L660.1,173.9" fill="none" stroke="#3a3a3a" stroke-width="0.95" stroke-dasharray="2.6 1.6"/>
<path d="M660.1,173.9L662.4,173.9" fill="none" stroke="#3a3a3a" stroke-width="0.95" stroke-dasharray="2.6 1.6"/>
<line x1="464.4" y1="221.5" x2="464.4" y2="227.1" stroke="#2a2a2a" stroke-width="1.05" />
<line x1="524.9" y1="209.4" x2="530.5" y2="209.4" stroke="#222" stroke-width="1.1" />
<line x1="527.7" y1="206.6" x2="527.7" y2="212.2" stroke="#222" stroke-width="1.1" />
<line x1="539.7" y1="194.7" x2="539.7" y2="200.3" stroke="#333" stroke-width="1.05" />
<line x1="542.1" y1="194.7" x2="542.1" y2="200.3" stroke="#333" stroke-width="1.05" />
<line x1="544.8" y1="194.7" x2="544.8" y2="200.3" stroke="#333" stroke-width="1.05" />
<line x1="548.3" y1="194.7" x2="548.3" y2="200.3" stroke="#333" stroke-width="1.05" />
<line x1="555.3" y1="194.7" x2="555.3" y2="200.3" stroke="#333" stroke-width="1.05" />
<line x1="558.7" y1="194.7" x2="558.7" y2="200.3" stroke="#333" stroke-width="1.05" />
<line x1="559.5" y1="194.7" x2="559.5" y2="200.3" stroke="#333" stroke-width="1.05" />
<line x1="566.9" y1="190.5" x2="566.9" y2="196.1" stroke="#333" stroke-width="1.05" />
<line x1="572.6" y1="190.5" x2="572.6" y2="196.1" stroke="#333" stroke-width="1.05" />
<line x1="576" y1="190.5" x2="576" y2="196.1" stroke="#333" stroke-width="1.05" />
<line x1="579.6" y1="190.5" x2="579.6" y2="196.1" stroke="#333" stroke-width="1.05" />
<line x1="582.7" y1="190.5" x2="582.7" y2="196.1" stroke="#333" stroke-width="1.05" />
<line x1="585" y1="190.5" x2="585" y2="196.1" stroke="#333" stroke-width="1.05" />
<line x1="587.3" y1="190.5" x2="587.3" y2="196.1" stroke="#333" stroke-width="1.05" />
<line x1="592.4" y1="190.5" x2="592.4" y2="196.1" stroke="#333" stroke-width="1.05" />
<line x1="595.2" y1="190.5" x2="595.2" y2="196.1" stroke="#333" stroke-width="1.05" />
<line x1="602.1" y1="190.5" x2="602.1" y2="196.1" stroke="#333" stroke-width="1.05" />
<line x1="603.4" y1="190.5" x2="603.4" y2="196.1" stroke="#333" stroke-width="1.05" />
<line x1="611.3" y1="181.3" x2="611.3" y2="186.9" stroke="#2a2a2a" stroke-width="1.05" />
<line x1="613.2" y1="181.3" x2="613.2" y2="186.9" stroke="#2a2a2a" stroke-width="1.05" />
<line x1="632.3" y1="181.1" x2="632.3" y2="187.1" stroke="#2a2a2a" stroke-width="1.3" />
<line x1="630.3" y1="184.1" x2="635.3" y2="184.1" stroke="#222" stroke-width="1.3" />
<line x1="655.9" y1="171.1" x2="655.9" y2="176.7" stroke="#2a2a2a" stroke-width="1.05" />
<line x1="660.1" y1="171.1" x2="660.1" y2="176.7" stroke="#2a2a2a" stroke-width="1.05" />
<line x1="631.8" y1="174" x2="636.4" y2="174" stroke="#222" stroke-width="1.0" />
<line x1="634.1" y1="171" x2="634.1" y2="177" stroke="#222" stroke-width="1.0" />
</svg>
</body></html>
